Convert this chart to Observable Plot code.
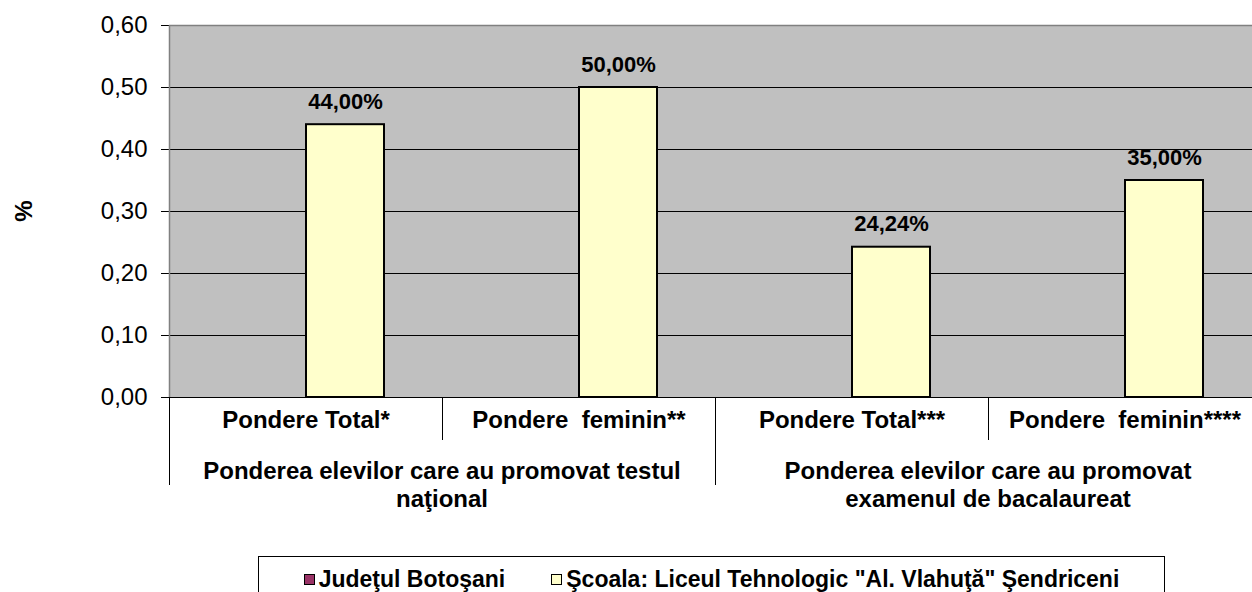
<!DOCTYPE html>
<html>
<head>
<meta charset="utf-8">
<script src="https://cdn.jsdelivr.net/npm/d3@7"></script>
<script src="https://cdn.jsdelivr.net/npm/@observablehq/plot@0.6"></script>
<style>
  html, body { margin: 0; padding: 0; background: #fff; overflow: hidden; }
  body { font-family: "Liberation Sans", Arial, sans-serif; width: 1252px; height: 592px; position: relative; }
  svg text { white-space: pre; }
  #legend {
    position: absolute; left: 258px; top: 556px; width: 907px; height: 60px;
    border: 1px solid #000; box-sizing: border-box; background: #fff;
    font-weight: bold; font-size: 23px; line-height: 26px; color: #000;
    display: flex; justify-content: center; align-items: flex-start; padding-top: 9px;
  }
  .item { display: flex; align-items: center; white-space: pre; }
  .item + .item { margin-left: 46px; }
  .sw { width: 9px; height: 9px; border: 1px solid #000; margin-right: 4px; }
</style>
</head>
<body>
<div id="chart"></div>
<div id="legend"></div>
<script>
const categories = ["Pondere Total*", "Pondere  feminin**", "Pondere Total***", "Pondere  feminin****"];
const groups = [
  ["Ponderea elevilor care au promovat testul", "naţional"],
  ["Ponderea elevilor care au promovat", "examenul de bacalaureat"]
];
const groupSpans = [[0, 1], [2, 3]];
const series = ["Judeţul Botoşani", "Şcoala: Liceul Tehnologic \"Al. Vlahuţă\" Şendriceni"];
const judetValues = [0, 0, 0, 0];
const scoalaValues = [0.44, 0.50, 0.2424, 0.35];
const yTicks = [0, 0.1, 0.2, 0.3, 0.4, 0.5, 0.6];
const colors = ["#993366", "#ffffcc"];

const rows = [];
categories.forEach((c, i) => {
  rows.push({category: c, series: series[0], value: judetValues[i]});
  rows.push({category: c, series: series[1], value: scoalaValues[i]});
});
const shown = rows.filter(d => d.value > 0);
const pct = v => (v * 100).toFixed(2).replace(".", ",") + "%";
const num = v => v.toFixed(2).replace(".", ",");

const plot = Plot.plot({
  width: 1252,
  height: 545,
  marginLeft: 168,
  marginRight: -10,
  marginTop: 25,
  marginBottom: 148,
  style: {fontFamily: "'Liberation Sans', Arial, sans-serif", background: "transparent", color: "#000"},
  fx: {domain: categories, padding: 0, label: null},
  x: {domain: series, paddingInner: 0, paddingOuter: 0.75, axis: null},
  y: {domain: [0, 0.6], axis: null},
  color: {domain: series, range: colors},
  marks: [
    Plot.frame({fill: "#c0c0c0", stroke: "#c0c0c0"}),
    Plot.gridY(yTicks, {stroke: "#000", strokeOpacity: 1}),
    Plot.ruleY([0.6], {stroke: "#808080", strokeWidth: 1.5}),
    Plot.barY(shown, {fx: "category", x: "series", y: "value", fill: "series", stroke: "#000", strokeWidth: 2}),
    Plot.text(shown, {fx: "category", x: "series", y: "value", text: d => pct(d.value), dy: -23, fontSize: 22, fontWeight: "bold", fill: "#000"}),
    Plot.axisY({ticks: yTicks, tickFormat: num, tickSize: 8, tickPadding: 14, fontSize: 24, label: null, stroke: "#000"}),
    Plot.axisFx({anchor: "bottom", tickSize: 0, tickPadding: 13, fontSize: 24, fontWeight: "bold", label: null}),
    Plot.ruleY([0], {stroke: "#000", strokeWidth: 1})
  ]
});
document.getElementById("chart").appendChild(plot);

// decorations drawn with the plot's own scales
const fx = plot.scale("fx"), y = plot.scale("y");
const svg = d3.select(plot);
const y0 = y.apply(0), yTop = y.apply(0.6);
const bw = fx.bandwidth;
const g = svg.append("g").attr("stroke", "#000");
g.append("line").attr("x1", fx.apply(categories[0]) + 0.5).attr("x2", fx.apply(categories[0]) + 0.5)
  .attr("y1", yTop).attr("y2", y0).attr("stroke", "#808080").attr("stroke-width", 1.5);
categories.forEach((c, i) => {
  const x = Math.round(fx.apply(c)) + 0.5;
  const long = groupSpans.some(s => s[0] === i);
  g.append("line").attr("x1", x).attr("x2", x).attr("y1", y0).attr("y2", y0 + (long ? 88 : 43)).attr("stroke", "#000");
});
const tg = svg.append("g").attr("font-size", 24).attr("font-weight", "bold").attr("text-anchor", "middle").attr("fill", "#000");
groups.forEach((lines, gi) => {
  const [a, b] = groupSpans[gi];
  const cx = (fx.apply(categories[a]) + fx.apply(categories[b]) + bw) / 2;
  lines.forEach((t, li) => {
    tg.append("text").attr("x", cx).attr("y", y0 + 82 + li * 28).text(t);
  });
});
svg.append("text").attr("transform", `translate(32,${(y0 + yTop) / 2}) rotate(-90)`)
  .attr("text-anchor", "middle").attr("font-size", 24).attr("font-weight", "bold").attr("fill", "#000").text("%");

// legend
const legend = d3.select("#legend");
series.forEach((s, i) => {
  const it = legend.append("div").attr("class", "item");
  it.append("div").attr("class", "sw").style("background", colors[i]);
  it.append("span").text(s);
});
</script>
</body>
</html>
